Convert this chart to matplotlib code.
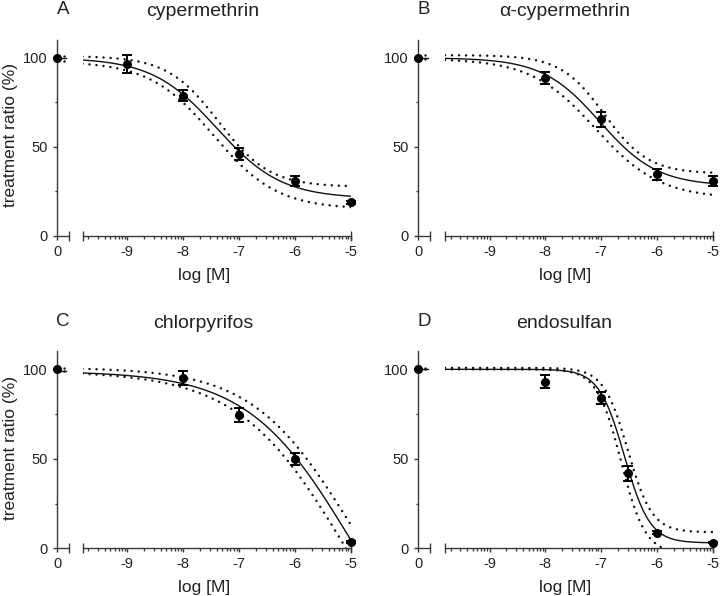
import numpy as np
import matplotlib.pyplot as plt
from matplotlib.ticker import FixedLocator

plt.rcParams['font.family'] = ['Liberation Sans', 'DejaVu Sans']

W, H = 720, 596
TXT = '#222222'
AX = '#3a3a3a'

letters = ['A', 'B', 'C', 'D']
titles = ['cypermethrin', 'α-cypermethrin', 'chlorpyrifos', 'endosulfan']
control = [100, 100, 100, 100]

# log [M] and treatment ratio (%) with error bars
conc_a = [-9, -8, -7, -6, -5]
resp_a = [96.5, 78.8, 46.0, 30.7, 18.9]
err_a = [5.0, 3.3, 3.2, 2.8, 0.8]

conc_b = [-8, -7, -6, -5]
resp_b = [88.6, 65.5, 34.6, 30.9]
err_b = [3.3, 4.3, 3.0, 2.7]

conc_c = [-8, -7, -6, -5]
resp_c = [95.0, 74.5, 49.7, 3.5]
err_c = [3.9, 3.7, 3.3, 0.5]

conc_d = [-8, -7, -6.52, -6, -5]
resp_d = [93.1, 83.8, 41.9, 8.8, 3.2]
err_d = [3.5, 3.3, 4.3, 0.8, 0.5]

# dose-response fits [top, bottom, logIC50, hill], with 95% band curves
fit_a = [100, 21, -7.4, 0.75]
upper_a = [101, 27.5, -7.37, 0.95]
lower_a = [98, 15, -7.46, 0.76]

fit_b = [100, 28, -7.02, 0.84]
upper_b = [101.5, 35, -6.94, 1.1]
lower_b = [99.5, 21, -7.1, 0.75]

fit_c = [99, -90, -5.0, 0.47]
upper_c = [101, -70, -5.05, 0.5]
lower_c = [99, -100, -5.08, 0.45]

fit_d = [100, 3, -6.58, 1.9]
upper_d = [100.8, 9, -6.52, 2.0]
lower_d = [100, -3, -6.64, 2.0]

xticks = [-9, -8, -7, -6, -5]
xticklabels = ['-9', '-8', '-7', '-6', '-5']
xmin, xmax = -9.8, -5

panels = [
    (conc_a, resp_a, err_a, fit_a, upper_a, lower_a),
    (conc_b, resp_b, err_b, fit_b, upper_b, lower_b),
    (conc_c, resp_c, err_c, fit_c, upper_c, lower_c),
    (conc_d, resp_d, err_d, fit_d, upper_d, lower_d),
]

# pixel layout
cols = [(57, 68.7, 82.5, 351), (418, 430, 445, 712.5)]
rows = [(40.0, 235.8), (351.4, 548.3)]


def hill(x, p):
    top, bottom, ic50, h = p
    return bottom + (top - bottom) / (1 + 10 ** ((x - ic50) * h))


def rect(x0, x1, ytop, ybot):
    return [x0 / W, 1 - ybot / H, (x1 - x0) / W, (ybot - ytop) / H]


fig = plt.figure(figsize=(W / 100, H / 100), dpi=100)
dots = dict(color='#111111', lw=1.8, ls=(0, (0.01, 2.8)), dash_capstyle='round')

for i, (conc, resp, err, fit, up, lo) in enumerate(panels):
    c = cols[i % 2]
    r = rows[i // 2]
    ax0 = fig.add_axes(rect(c[0], c[1], r[0], r[1]))
    ax1 = fig.add_axes(rect(c[2], c[3], r[0], r[1]), sharey=ax0)

    for ax in (ax0, ax1):
        ax.spines['top'].set_visible(False)
        ax.spines['right'].set_visible(False)
        ax.spines['bottom'].set_color(AX)
        ax.spines['left'].set_color(AX)
        ax.spines['bottom'].set_linewidth(1.0)
        ax.spines['left'].set_linewidth(1.0)
        ax.patch.set_alpha(0)
    ax1.spines['left'].set_visible(False)

    ax0.set_ylim(0, 110)
    ax0.set_xlim(0, 1)
    ax0.set_xticks([0])
    ax0.set_xticklabels(['0'])
    ax0.set_yticks([0, 50, 100])
    ax0.set_yticklabels(['0', '50', '100'])
    ax0.yaxis.set_minor_locator(FixedLocator([25, 75]))
    ax0.tick_params(axis='both', which='major', length=3, width=1.0, color=AX,
                    labelsize=10.5, labelcolor=TXT, pad=3.5)
    ax0.tick_params(axis='y', which='minor', length=1.8, width=1.0, color=AX)

    ax1.set_xlim(xmin, xmax)
    ax1.set_xticks(xticks)
    ax1.set_xticklabels(xticklabels)
    minor = [d + np.log10(k) for d in range(-10, -5) for k in range(2, 10)]
    minor = [m for m in minor if xmin < m < xmax]
    ax1.xaxis.set_minor_locator(FixedLocator(minor))
    ax1.tick_params(axis='x', which='major', length=3, width=1.0, color=AX,
                    labelsize=10.5, labelcolor=TXT, pad=3.5)
    ax1.tick_params(axis='x', which='minor', length=1.8, width=1.0, color=AX)
    ax1.tick_params(axis='y', which='both', left=False, labelleft=False)

    # axis break caps
    ax0.plot([1], [0], marker='|', ms=7, mew=1.0, color=AX, clip_on=False)
    ax1.plot([xmin, xmax], [0, 0], ls='none', marker='|', ms=7, mew=1.0,
             color=AX, clip_on=False)

    # left segment: control and plateau of the fit
    ax0.plot([0, 0.8], [fit[0], fit[0]], color='#111111', lw=1.0)
    ax0.plot([0, 0.8], [up[0], up[0]], **dots)
    ax0.plot([0, 0.8], [lo[0], lo[0]], **dots)
    ax0.plot([0], [control[i]], 'o', ms=5.5, color='black', clip_on=False, zorder=5)

    xs = np.linspace(xmin, xmax, 400)
    ax1.plot(xs, hill(xs, fit), color='#111111', lw=1.0)
    ax1.plot(xs, hill(xs, up), **dots)
    ax1.plot(xs, hill(xs, lo), **dots)
    eb = ax1.errorbar(conc, resp, yerr=err, fmt='o', ms=5.5, color='black',
                      ecolor='black', elinewidth=1.4, capsize=3.5, capthick=1.4,
                      zorder=5)
    for art in eb.get_children():
        art.set_clip_on(False)

    xc = (c[0] + c[3]) / 2
    fig.text((c[0] + 6) / W, 1 - (r[0] - 30) / H, letters[i], fontsize=13.5,
             color=TXT, ha='center', va='center')
    fig.text((xc - 1) / W, 1 - (r[0] - 28) / H, titles[i], fontsize=14,
             color=TXT, ha='center', va='center')
    fig.text(xc / W, 1 - (r[1] + 39.5) / H, 'log [M]', fontsize=12.5,
             color=TXT, ha='center', va='center')
    if i % 2 == 0:
        fig.text(11 / W, 1 - (r[1] - 100.5) / H, 'treatment ratio (%)',
                 fontsize=12.5, color=TXT, rotation=90, ha='center', va='center')

fig.savefig('out.png', dpi=100)
